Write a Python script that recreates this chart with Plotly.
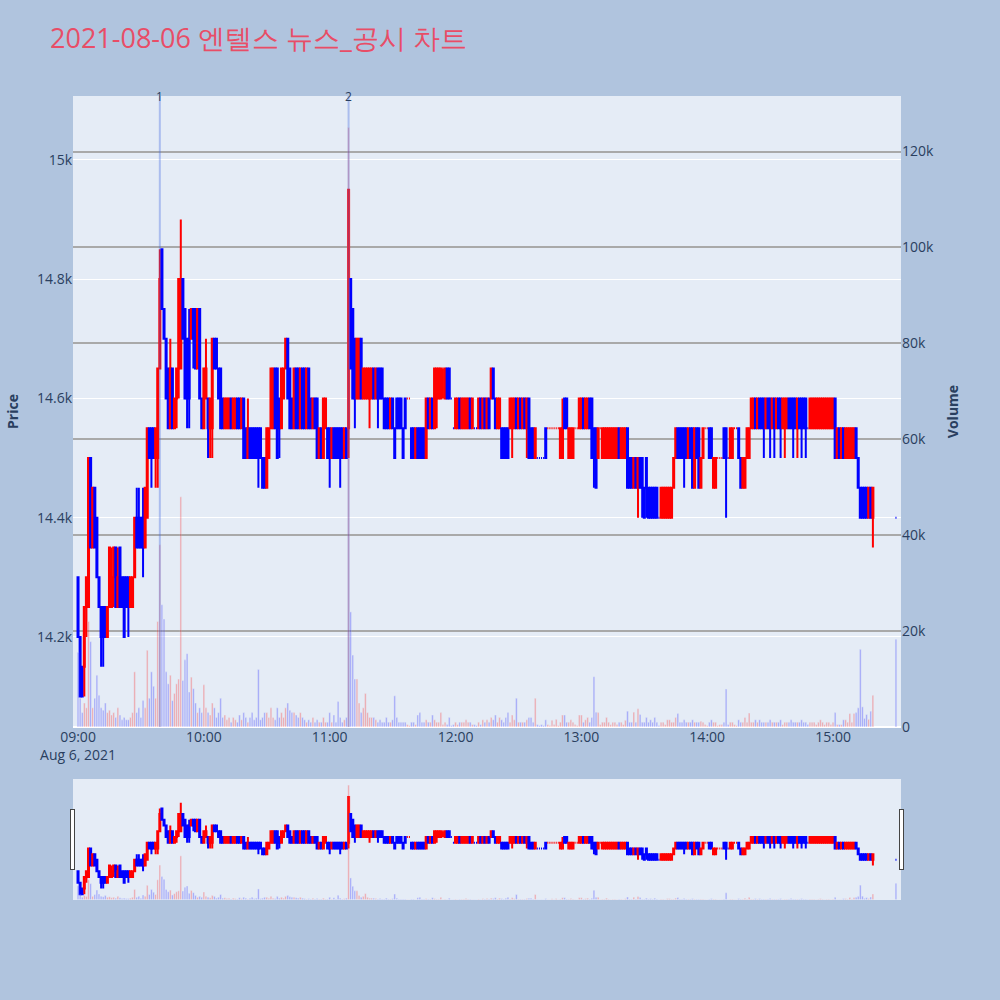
import pandas as pd
import plotly.graph_objects as go
from plotly.subplots import make_subplots

# 1분봉 데이터 (09:00 ~ 15:19, 15:30 동시호가)
opens = [
    14300, 14200, 14150, 14150, 14250, 14250, 14500, 14350, 14450, 14400,
    14300, 14250, 14250, 14250, 14200, 14250, 14250, 14300, 14350, 14250,
    14350, 14300, 14300, 14300, 14300, 14250, 14250, 14300, 14400, 14400,
    14400, 14400, 14350, 14400, 14550, 14550, 14550, 14500, 14500, 14650,
    14850, 14750, 14700, 14650, 14550, 14650, 14550, 14600, 14650, 14650,
    14800, 14750, 14700, 14700, 14700, 14750, 14750, 14650, 14750, 14600,
    14550, 14600, 14600, 14550, 14550, 14700, 14700, 14650, 14650, 14600,
    14550, 14550, 14550, 14600, 14550, 14550, 14600, 14600, 14550, 14600,
    14550, 14500, 14550, 14550, 14550, 14550, 14550, 14550, 14500, 14500,
    14450, 14500, 14550, 14550, 14650, 14650, 14600, 14550, 14600, 14650,
    14700, 14650, 14600, 14550, 14650, 14650, 14550, 14650, 14650, 14550,
    14650, 14600, 14550, 14600, 14600, 14500, 14550, 14500, 14550, 14550,
    14550, 14500, 14550, 14550, 14550, 14550, 14550, 14500, 14550, 14550,
    14800, 14750, 14700, 14600, 14600, 14700, 14600, 14600, 14600, 14600,
    14600, 14650, 14600, 14650, 14650, 14650, 14600, 14600, 14600, 14550,
    14600, 14550, 14600, 14600, 14600, 14550, 14600, 14600, 14600, 14550,
    14550, 14500, 14550, 14550, 14550, 14550, 14500, 14600, 14550, 14600,
    14550, 14600, 14600, 14600, 14650, 14600, 14650, 14650, 14600, 14550,
    14550, 14550, 14600, 14550, 14550, 14550, 14550, 14600, 14550, 14550,
    14550, 14550, 14600, 14550, 14600, 14550, 14600, 14600, 14650, 14600,
    14550, 14550, 14550, 14550, 14550, 14550, 14550, 14550, 14550, 14600,
    14550, 14600, 14550, 14600, 14550, 14600, 14550, 14550, 14500, 14500,
    14500, 14500, 14500, 14550, 14550, 14550, 14550, 14550, 14550, 14550,
    14500, 14500, 14600, 14600, 14500, 14500, 14500, 14550, 14550, 14550,
    14550, 14600, 14550, 14550, 14600, 14600, 14550, 14550, 14500, 14550,
    14500, 14500, 14500, 14500, 14500, 14500, 14500, 14500, 14550, 14500,
    14500, 14500, 14550, 14500, 14500, 14450, 14500, 14450, 14500, 14500,
    14450, 14500, 14450, 14450, 14450, 14450, 14450, 14400, 14400, 14400,
    14400, 14400, 14400, 14400, 14450, 14500, 14550, 14550, 14550, 14550,
    14550, 14500, 14550, 14550, 14450, 14550, 14550, 14450, 14500, 14550,
    14550, 14550, 14550, 14450, 14450, 14500, 14500, 14500, 14550, 14550,
    14500, 14500, 14500, 14550, 14550, 14550, 14500, 14450, 14450, 14500,
    14500, 14550, 14550, 14600, 14550, 14600, 14600, 14600, 14550, 14600,
    14600, 14550, 14600, 14550, 14600, 14600, 14550, 14550, 14550, 14600,
    14600, 14600, 14600, 14550, 14600, 14600, 14600, 14600, 14550, 14550,
    14550, 14550, 14550, 14550, 14550, 14550, 14550, 14550, 14550, 14550,
    14550, 14600, 14500, 14550, 14500, 14550, 14500, 14500, 14500, 14500,
    14500, 14550, 14500, 14450, 14450, 14450, 14450, 14400, 14450, 14400,
    14400,
]
highs = [
    14300, 14200, 14150, 14250, 14300, 14500, 14500, 14450, 14450, 14400,
    14300, 14250, 14250, 14250, 14250, 14350, 14350, 14350, 14350, 14350,
    14350, 14300, 14300, 14300, 14300, 14300, 14300, 14400, 14450, 14450,
    14400, 14450, 14450, 14550, 14550, 14550, 14550, 14550, 14650, 14850,
    14850, 14750, 14700, 14650, 14700, 14650, 14600, 14650, 14800, 14900,
    14800, 14750, 14700, 14750, 14750, 14750, 14750, 14750, 14750, 14600,
    14650, 14700, 14600, 14600, 14700, 14700, 14700, 14650, 14650, 14600,
    14600, 14600, 14600, 14600, 14600, 14600, 14600, 14600, 14600, 14600,
    14550, 14600, 14550, 14550, 14550, 14550, 14550, 14550, 14500, 14500,
    14550, 14550, 14650, 14650, 14650, 14650, 14600, 14650, 14650, 14700,
    14700, 14650, 14600, 14650, 14650, 14650, 14650, 14650, 14650, 14650,
    14650, 14600, 14600, 14600, 14600, 14550, 14550, 14600, 14600, 14550,
    14550, 14550, 14550, 14550, 14550, 14550, 14550, 14550, 14550, 14950,
    14800, 14750, 14700, 14700, 14700, 14700, 14650, 14650, 14650, 14650,
    14650, 14650, 14650, 14650, 14650, 14650, 14600, 14600, 14600, 14600,
    14600, 14550, 14600, 14600, 14600, 14550, 14600, 14600, 14600, 14550,
    14550, 14550, 14550, 14550, 14550, 14550, 14600, 14600, 14600, 14600,
    14650, 14650, 14650, 14650, 14650, 14650, 14650, 14650, 14600, 14550,
    14600, 14600, 14600, 14600, 14600, 14600, 14600, 14600, 14600, 14550,
    14550, 14600, 14600, 14600, 14600, 14600, 14600, 14650, 14650, 14600,
    14600, 14600, 14550, 14550, 14550, 14550, 14600, 14600, 14600, 14600,
    14600, 14600, 14600, 14600, 14600, 14600, 14550, 14550, 14550, 14500,
    14500, 14500, 14500, 14550, 14550, 14550, 14550, 14550, 14550, 14550,
    14550, 14600, 14600, 14600, 14550, 14550, 14550, 14550, 14550, 14600,
    14600, 14600, 14600, 14600, 14600, 14600, 14550, 14550, 14550, 14550,
    14550, 14550, 14550, 14550, 14550, 14550, 14550, 14550, 14550, 14550,
    14550, 14550, 14550, 14500, 14500, 14500, 14500, 14500, 14500, 14500,
    14450, 14500, 14450, 14450, 14450, 14450, 14450, 14400, 14450, 14450,
    14450, 14450, 14450, 14450, 14500, 14550, 14550, 14550, 14550, 14550,
    14550, 14550, 14550, 14550, 14550, 14550, 14550, 14500, 14550, 14550,
    14550, 14550, 14550, 14500, 14500, 14500, 14500, 14500, 14550, 14550,
    14500, 14550, 14550, 14550, 14550, 14550, 14500, 14500, 14500, 14550,
    14550, 14600, 14600, 14600, 14600, 14600, 14600, 14600, 14600, 14600,
    14600, 14600, 14600, 14600, 14600, 14600, 14600, 14600, 14600, 14600,
    14600, 14600, 14600, 14600, 14600, 14600, 14600, 14600, 14550, 14600,
    14600, 14600, 14600, 14600, 14600, 14600, 14600, 14600, 14600, 14600,
    14600, 14600, 14550, 14550, 14550, 14550, 14550, 14550, 14550, 14550,
    14550, 14550, 14500, 14450, 14450, 14450, 14450, 14450, 14450, 14450,
    14400,
]
lows = [
    14200, 14100, 14100, 14100, 14200, 14250, 14350, 14350, 14350, 14300,
    14250, 14150, 14150, 14200, 14200, 14250, 14250, 14250, 14250, 14250,
    14250, 14250, 14200, 14250, 14200, 14250, 14250, 14300, 14350, 14350,
    14350, 14300, 14350, 14400, 14500, 14450, 14500, 14450, 14450, 14650,
    14750, 14700, 14600, 14550, 14550, 14550, 14550, 14550, 14600, 14650,
    14700, 14600, 14550, 14550, 14700, 14650, 14650, 14650, 14600, 14550,
    14550, 14600, 14500, 14500, 14500, 14650, 14650, 14600, 14550, 14550,
    14550, 14550, 14550, 14550, 14550, 14550, 14550, 14550, 14550, 14500,
    14500, 14500, 14500, 14500, 14500, 14500, 14450, 14500, 14450, 14450,
    14450, 14500, 14550, 14550, 14550, 14500, 14500, 14550, 14600, 14650,
    14600, 14550, 14550, 14550, 14550, 14550, 14550, 14550, 14550, 14550,
    14550, 14550, 14550, 14550, 14500, 14500, 14500, 14500, 14550, 14500,
    14450, 14500, 14500, 14500, 14500, 14450, 14500, 14500, 14500, 14500,
    14650, 14600, 14550, 14600, 14600, 14600, 14600, 14600, 14600, 14550,
    14600, 14600, 14600, 14550, 14600, 14600, 14550, 14550, 14550, 14550,
    14550, 14500, 14550, 14550, 14550, 14500, 14550, 14600, 14600, 14500,
    14500, 14500, 14500, 14500, 14500, 14500, 14500, 14550, 14550, 14550,
    14550, 14550, 14600, 14600, 14600, 14600, 14600, 14600, 14600, 14550,
    14550, 14550, 14550, 14550, 14550, 14550, 14550, 14550, 14550, 14550,
    14550, 14550, 14550, 14550, 14550, 14550, 14550, 14600, 14600, 14550,
    14550, 14550, 14500, 14500, 14500, 14500, 14550, 14500, 14550, 14550,
    14550, 14550, 14550, 14550, 14500, 14500, 14500, 14500, 14500, 14500,
    14500, 14500, 14500, 14500, 14550, 14550, 14550, 14550, 14550, 14550,
    14500, 14500, 14550, 14550, 14500, 14500, 14500, 14550, 14550, 14550,
    14550, 14550, 14550, 14550, 14550, 14500, 14450, 14450, 14500, 14550,
    14500, 14500, 14500, 14500, 14500, 14500, 14500, 14500, 14500, 14500,
    14500, 14500, 14450, 14450, 14450, 14450, 14450, 14400, 14450, 14400,
    14400, 14400, 14400, 14400, 14400, 14400, 14400, 14400, 14400, 14400,
    14400, 14400, 14400, 14400, 14450, 14500, 14500, 14500, 14500, 14450,
    14500, 14500, 14500, 14450, 14450, 14500, 14450, 14450, 14500, 14550,
    14550, 14500, 14500, 14450, 14450, 14500, 14500, 14500, 14500, 14400,
    14500, 14500, 14500, 14550, 14550, 14500, 14450, 14450, 14450, 14500,
    14500, 14550, 14550, 14550, 14550, 14550, 14550, 14500, 14550, 14550,
    14500, 14550, 14500, 14550, 14550, 14500, 14550, 14500, 14550, 14550,
    14550, 14500, 14550, 14500, 14550, 14500, 14550, 14500, 14550, 14550,
    14550, 14550, 14550, 14550, 14550, 14550, 14550, 14550, 14550, 14550,
    14550, 14500, 14500, 14500, 14500, 14500, 14500, 14500, 14500, 14500,
    14500, 14500, 14450, 14400, 14400, 14400, 14400, 14400, 14400, 14350,
    14400,
]
closes = [
    14200, 14100, 14100, 14250, 14300, 14500, 14350, 14450, 14350, 14300,
    14250, 14200, 14200, 14200, 14250, 14350, 14300, 14350, 14250, 14300,
    14250, 14250, 14200, 14250, 14250, 14300, 14300, 14400, 14350, 14350,
    14350, 14350, 14450, 14550, 14500, 14500, 14500, 14550, 14650, 14800,
    14750, 14700, 14600, 14550, 14650, 14550, 14600, 14650, 14800, 14800,
    14700, 14600, 14600, 14600, 14750, 14700, 14650, 14750, 14600, 14550,
    14650, 14650, 14550, 14600, 14700, 14650, 14650, 14600, 14550, 14550,
    14600, 14600, 14600, 14550, 14600, 14600, 14550, 14550, 14600, 14500,
    14500, 14550, 14500, 14500, 14500, 14500, 14500, 14500, 14450, 14450,
    14550, 14550, 14650, 14650, 14550, 14500, 14550, 14650, 14650, 14700,
    14600, 14550, 14550, 14650, 14550, 14550, 14650, 14550, 14550, 14650,
    14550, 14550, 14600, 14550, 14500, 14550, 14500, 14600, 14600, 14500,
    14500, 14550, 14500, 14500, 14500, 14500, 14500, 14550, 14500, 14950,
    14650, 14600, 14600, 14700, 14700, 14600, 14650, 14650, 14650, 14650,
    14650, 14600, 14650, 14600, 14600, 14600, 14550, 14550, 14550, 14600,
    14550, 14500, 14550, 14550, 14550, 14500, 14550, 14600, 14600, 14500,
    14500, 14550, 14500, 14500, 14500, 14500, 14600, 14550, 14600, 14550,
    14650, 14650, 14650, 14650, 14650, 14650, 14600, 14600, 14600, 14550,
    14600, 14600, 14550, 14600, 14600, 14600, 14600, 14550, 14600, 14550,
    14550, 14600, 14550, 14600, 14550, 14600, 14550, 14650, 14600, 14550,
    14600, 14600, 14500, 14500, 14500, 14500, 14600, 14600, 14600, 14550,
    14600, 14550, 14600, 14550, 14600, 14500, 14500, 14500, 14550, 14500,
    14500, 14500, 14500, 14500, 14550, 14550, 14550, 14550, 14550, 14550,
    14550, 14550, 14550, 14550, 14550, 14550, 14550, 14550, 14550, 14600,
    14600, 14550, 14600, 14600, 14550, 14500, 14500, 14450, 14550, 14550,
    14550, 14550, 14550, 14550, 14550, 14550, 14550, 14550, 14500, 14550,
    14550, 14550, 14450, 14450, 14450, 14500, 14450, 14500, 14450, 14450,
    14400, 14450, 14400, 14400, 14400, 14400, 14400, 14400, 14450, 14450,
    14450, 14450, 14450, 14450, 14500, 14550, 14500, 14500, 14500, 14500,
    14500, 14550, 14500, 14450, 14550, 14500, 14450, 14500, 14550, 14550,
    14550, 14500, 14500, 14500, 14500, 14500, 14500, 14500, 14500, 14500,
    14500, 14550, 14550, 14550, 14550, 14500, 14450, 14500, 14500, 14550,
    14550, 14600, 14600, 14550, 14600, 14550, 14550, 14550, 14600, 14550,
    14550, 14600, 14550, 14600, 14550, 14550, 14600, 14600, 14600, 14550,
    14550, 14550, 14550, 14600, 14550, 14550, 14550, 14550, 14550, 14600,
    14600, 14600, 14600, 14600, 14600, 14600, 14600, 14600, 14600, 14600,
    14600, 14500, 14550, 14500, 14550, 14500, 14550, 14550, 14550, 14550,
    14550, 14500, 14450, 14400, 14400, 14400, 14400, 14450, 14400, 14450,
    14400,
]
volumes = [
    15600, 6000, 3000, 5000, 4000, 22000, 17800, 4000, 6000, 10800,
    6600, 4000, 3500, 5000, 3000, 3500, 2500, 3000, 2000, 4000,
    2500, 1500, 2000, 1500, 1500, 2000, 3000, 11500, 3000, 4000,
    2000, 5500, 4000, 16000, 6000, 11500, 8500, 6000, 22000, 38000,
    25500, 22500, 11500, 9000, 10800, 5500, 7000, 9000, 10000, 48000,
    9700, 14000, 15300, 7300, 10400, 8000, 5000, 3000, 4000, 3000,
    8800, 4000, 3000, 2500, 5000, 4000, 2000, 3000, 6000, 2000,
    2500, 1500, 2000, 1000, 2000, 1500, 1000, 2500, 1500, 3000,
    2000, 1000, 2000, 3000, 1500, 2000, 12000, 1500, 2000, 3000,
    3000, 2000, 4000, 2000, 1500, 4000, 2000, 3000, 2000, 4000,
    5000, 3500, 3000, 3000, 2500, 2000, 3000, 2000, 1500, 1000,
    1500, 1000, 2000, 1000, 1500, 1000, 1000, 2000, 1000, 1000,
    3000, 1000, 2500, 1000, 5300, 2000, 1000, 1500, 2000, 125000,
    24000, 15000, 10000, 10000, 5000, 3000, 4000, 7000, 3000, 2000,
    2000, 2000, 1500, 1000, 1500, 1000, 1000, 2000, 1000, 1000,
    1500, 6500, 2000, 1000, 1000, 1000, 1000, 500, 300, 1000,
    1000, 500, 2500, 3000, 1000, 1000, 1500, 1000, 1000, 2500,
    1500, 1000, 1000, 3000, 500, 1000, 500, 2000, 300, 500,
    1000, 500, 1000, 1000, 1000, 1500, 1000, 1000, 500, 500,
    300, 1000, 500, 1500, 1000, 1500, 1000, 2000, 1500, 2500,
    1000, 2000, 1500, 1000, 2000, 3000, 1000, 2500, 1500, 6000,
    1000, 1000, 1000, 1000, 1500, 2000, 2000, 1000, 6000, 500,
    300, 500, 300, 1500, 500, 300, 1400, 500, 1600, 300,
    1000, 2500, 2500, 1000, 1000, 1500, 1000, 500, 300, 2500,
    2500, 1000, 1500, 2000, 1000, 2000, 10500, 3100, 3000, 500,
    1000, 1000, 2000, 1000, 500, 1000, 1000, 500, 1000, 1000,
    500, 1400, 3300, 1000, 1000, 3100, 1000, 3800, 2600, 1000,
    1000, 2000, 1000, 1500, 1000, 2000, 1000, 300, 1000, 1000,
    500, 1500, 1500, 1000, 1000, 2000, 2800, 1000, 1000, 1500,
    1000, 1000, 1000, 1500, 1000, 1000, 1000, 1200, 1000, 500,
    300, 1000, 1500, 1000, 1000, 300, 500, 500, 1000, 7900,
    500, 1000, 1000, 500, 300, 1500, 1000, 1000, 2000, 1000,
    2900, 1000, 1000, 1500, 1000, 1500, 1000, 1000, 1000, 1000,
    1500, 1000, 1000, 1000, 1000, 1500, 500, 1000, 1000, 1000,
    1500, 1000, 1000, 1000, 1000, 1500, 1000, 1000, 500, 1000,
    1000, 1000, 500, 1000, 1500, 1000, 500, 1000, 1000, 500,
    1000, 3000, 500, 500, 500, 1500, 1500, 1000, 2800, 1000,
    2800, 3000, 4000, 16200, 4200, 1800, 2600, 1600, 3300, 6600,
    18300,
]
times = list(pd.date_range("2021-08-06 09:00", periods=380, freq="min")) + [pd.Timestamp("2021-08-06 15:30")]

news_times = ["2021-08-06 09:39", "2021-08-06 11:09"]
news_labels = ["1", "2"]

# 거래량 색: 상승 빨강, 하락 파랑 (보합이면 직전 종가와 비교)
vol_colors = []
prev_c, prev_col = None, "red"
for o, c in zip(opens, closes):
    if c > o:
        col = "red"
    elif c < o:
        col = "blue"
    elif prev_c is not None and c != prev_c:
        col = "red" if c > prev_c else "blue"
    else:
        col = prev_col
    vol_colors.append(col)
    prev_c, prev_col = c, col

fig = make_subplots(specs=[[{"secondary_y": True}]])

fig.add_trace(go.Candlestick(
    x=times, open=opens, high=highs, low=lows, close=closes,
    increasing=dict(line=dict(color="red"), fillcolor="red"),
    decreasing=dict(line=dict(color="blue"), fillcolor="blue"),
    showlegend=False, name="Price"
), secondary_y=False)

fig.add_trace(go.Bar(
    x=times, y=volumes, marker_color=vol_colors, opacity=0.3,
    showlegend=False, name="Volume"
), secondary_y=True)

# 뉴스/공시 시점 표시
for t, lab in zip(news_times, news_labels):
    fig.add_shape(type="line", x0=t, x1=t, y0=0, y1=1, xref="x", yref="paper",
                  line=dict(color="royalblue", width=2), opacity=0.35)
    fig.add_annotation(x=t, y=1, xref="x", yref="paper", text=lab, showarrow=False,
                       yanchor="middle", font=dict(size=12, color="#2a3f5f"))

fig.update_layout(
    width=1000, height=1000,
    title=dict(text="2021-08-06 엔텔스 뉴스_공시 차트", font=dict(size=27, color="#E84D67")),
    paper_bgcolor="lightsteelblue",
    margin=dict(l=72, r=99, t=96, b=100),
    bargap=0.2,
)
fig.update_xaxes(
    domain=[0, 1],
    range=["2021-08-06 08:57:36", "2021-08-06 15:32:24"],
    tickfont=dict(size=14),
    rangeslider=dict(visible=True, bgcolor="#E5ECF6", thickness=0.15),
)
fig.update_yaxes(title_text="<b>Price</b>", range=[14049, 15107], tickfont=dict(size=14),
                 secondary_y=False)
fig.update_yaxes(title_text="<b>Volume</b>", gridcolor="darkgray", gridwidth=2,
                 tickfont=dict(size=14), secondary_y=True)

# 페이지 여백 없이 1000x1000 전체를 사용
fig.write_html("out.html", config={"displayModeBar": False},
               post_script="document.body.style.margin='0';"
               "document.documentElement.style.overflow='hidden';")
